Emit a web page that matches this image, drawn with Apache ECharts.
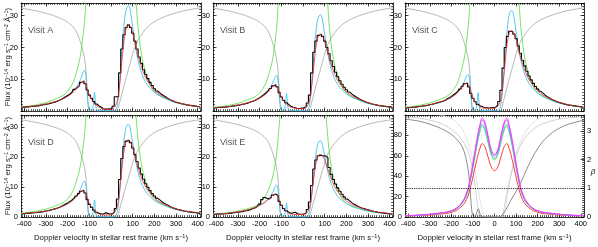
<!DOCTYPE html>
<html><head><meta charset="utf-8">
<script src="https://cdn.jsdelivr.net/npm/echarts@6/dist/echarts.min.js"></script>
<style>html,body{margin:0;padding:0;background:#fff}#c{width:598px;height:247px}</style>
</head><body><div id="c"></div><script>
// ---------------- DATA ----------------
const X_TICKS = [-400,-300,-200,-100,0,100,200,300,400];
const Y_TICKS_FLUX = [0,10,20,30];
const Y_TICKS_MODEL = [0,20,40,60,80];
const Y_TICKS_BETA = [0,1,2,3];
const VISITS = ['Visit A','Visit B','Visit C','Visit D','Visit E'];

// observed bins (km/s), 10 km/s wide
const VEL_BINS = [-410,-400,-390,-380,-370,-360,-350,-340,-330,-320,
  -310,-300,-290,-280,-270,-260,-250,-240,-230,-220,
  -210,-200,-190,-180,-170,-160,-150,-140,-130,-120,
  -110,-100,-90,-80,-70,-60,-50,-40,-30,-20,
  -10,0,10,20,30,40,50,60,70,80,
  90,100,110,120,130,140,150,160,170,180,
  190,200,210,220,230,240,250,260,270,280,
  290,300,310,320,330,340,350,360,370,380,
  390,400,410];
const OBS_A = [1.2,1.2,1.3,1.3,1.4,1.5,1.5,1.6,1.7,1.9,
  2.0,2.1,2.2,2.4,2.6,2.8,3.0,3.3,3.6,4.0,
  4.5,4.9,5.3,5.9,6.8,7.4,8.0,9.0,9.5,8.6,
  6.6,5.0,4.0,3.0,2.2,1.6,1.2,0.7,0.6,0.6,
  0.7,0.6,1.5,4.5,4.5,12,19.5,24,26.3,27.1,
  26.3,24.5,22,19.5,17,15,13,11.5,10.2,9.0,
  8.0,7.0,6.3,5.7,5.2,4.7,4.3,3.9,3.5,3.2,
  2.9,2.7,2.5,2.3,2.2,2.0,1.9,1.8,1.7,1.6,
  1.5,1.4,1.3];
const OBS_B = [1.0,1.0,1.1,1.1,1.2,1.2,1.3,1.4,1.5,1.6,
  1.7,1.8,1.9,2.1,2.2,2.4,2.6,2.9,3.1,3.4,
  3.8,4.2,4.7,5.2,5.8,6.4,7.1,7.9,8.3,7.6,
  5.8,4.4,3.4,2.6,2.0,1.5,1.2,1.0,0.8,0.8,
  0.9,1.0,1.3,2.5,5.0,12,18.5,22,23.8,24.2,
  23.5,22,20,18,15.8,14,12.2,10.8,9.5,8.4,
  7.5,6.7,6.0,5.4,4.9,4.4,4.0,3.6,3.3,3.0,
  2.7,2.5,2.3,2.1,2.0,1.8,1.7,1.6,1.5,1.4,
  1.3,1.3,1.2];
const OBS_C = [1.0,1.0,1.1,1.2,1.2,1.3,1.4,1.5,1.6,1.7,
  1.8,2.0,2.1,2.3,2.5,2.7,2.9,3.1,3.4,3.8,
  4.2,4.6,5.1,5.6,6.2,6.9,7.8,8.6,8.8,7.6,
  5.5,4.0,2.9,2.1,1.6,1.3,1.0,1.0,0.9,1.0,
  1.1,1.2,1.8,3.0,6.5,13.5,20,23.5,25.1,25.0,
  24.2,22.8,20.5,18.2,16,14.2,12.5,11,9.8,8.7,
  7.7,6.9,6.2,5.6,5.0,4.5,4.1,3.7,3.4,3.1,
  2.8,2.6,2.4,2.2,2.0,1.9,1.8,1.7,1.6,1.5,
  1.4,1.3,1.2];
const OBS_D = [1.1,1.1,1.2,1.2,1.3,1.4,1.4,1.5,1.6,1.7,
  1.8,2.0,2.1,2.3,2.5,2.7,2.9,3.2,3.5,3.9,
  4.3,4.7,5.2,5.7,6.3,7.0,7.8,8.6,8.9,8.0,
  5.8,4.2,3.2,2.3,1.6,1.2,1.0,1.0,1.4,1.2,
  1.0,1.0,1.5,2.8,6.0,12.5,19.5,23.5,25.3,25.5,
  24.8,23.0,20.8,18.5,16.3,14.3,12.6,11.1,9.9,8.8,
  7.8,7.0,6.3,5.7,5.1,4.6,4.2,3.8,3.4,3.1,
  2.8,2.6,2.4,2.2,2.0,1.9,1.8,1.7,1.6,1.5,
  1.4,1.3,1.2];
const OBS_E = [0.9,0.9,1.0,1.0,1.0,1.1,1.1,1.2,1.3,1.4,
  1.5,1.6,1.7,1.8,2.0,2.1,2.3,2.5,2.8,3.1,
  3.6,4.3,5.8,6.5,6.2,6.0,6.6,7.3,7.7,7.1,
  5.2,3.9,2.8,2.1,1.6,1.2,1.4,1.6,1.1,0.9,
  0.9,1.0,1.3,2.5,5.0,10.5,16,19,20.4,20.6,
  20.3,20.4,19.8,16.5,14.2,12.5,11.0,9.7,8.6,7.6,
  6.7,6.0,5.4,4.8,4.3,3.9,3.5,3.2,2.9,2.7,
  2.5,2.3,2.1,1.9,1.8,1.6,1.5,1.4,1.3,1.2,
  1.1,1.0,1.0];

// model grid (km/s)
const MODEL_V = [-415,-380,-340,-300,-260,-220,-190,-170,-155,-140,-130,-122,-115,-108,-102,-96,-90,-85,-80,-76,-72,-68,-62,-55,-45,-30,-15,0,10,20,28,35,42,50,58,66,74,82,90,100,110,120,132,145,160,180,200,225,260,300,340,380,415];
// convolved fitted model (red)
const FIT_A = [1.2,1.4,1.7,2.2,2.9,3.9,5.0,6.2,7.4,8.7,9.3,9.2,8.2,6.6,5.3,4.4,3.7,3.1,2.6,2.3,2.0,1.8,1.5,1.2,0.9,0.6,0.5,0.5,0.8,1.6,3.0,5.5,9.5,15.5,21,24.8,26.7,27.2,26.6,24.5,21.5,18.8,15.8,13.0,10.5,8.2,6.6,5.2,3.9,2.8,2.1,1.6,1.3];
const FIT_B = [1.0,1.2,1.4,1.9,2.5,3.4,4.4,5.4,6.5,7.7,8.2,8.0,7.2,5.9,4.8,4.0,3.3,2.8,2.4,2.1,1.9,1.7,1.4,1.2,1.0,0.8,0.7,0.7,0.9,1.6,2.9,5.2,9.0,14.2,19.2,22.5,24.0,24.2,23.6,21.8,19.3,16.9,14.3,11.8,9.6,7.6,6.1,4.8,3.6,2.6,1.9,1.5,1.2];
const FIT_C = [1.0,1.2,1.5,2.0,2.7,3.6,4.7,5.8,7.0,8.3,8.8,8.4,7.3,5.8,4.6,3.7,3.0,2.5,2.1,1.8,1.6,1.4,1.2,1.0,0.9,0.8,0.8,0.9,1.2,2.0,3.4,6.0,10.2,15.8,21,24,25.2,25.2,24.4,22.4,19.8,17.3,14.6,12.1,9.9,7.9,6.4,5.0,3.8,2.7,2.0,1.5,1.2];
const FIT_D = [1.1,1.3,1.6,2.0,2.7,3.7,4.8,5.9,7.1,8.4,8.9,8.6,7.6,6.1,4.9,4.0,3.3,2.8,2.3,2.0,1.7,1.5,1.2,1.0,0.8,0.7,0.7,0.8,1.1,1.9,3.3,5.9,10.0,15.8,21,24.3,25.6,25.7,25.0,23.0,20.3,17.7,14.9,12.3,10.0,8.0,6.4,5.0,3.8,2.7,2.0,1.6,1.3];
const FIT_E = [0.9,1.0,1.3,1.7,2.3,3.2,4.3,5.2,6.2,7.2,7.6,7.3,6.5,5.3,4.3,3.5,2.9,2.4,2.0,1.8,1.6,1.4,1.2,1.0,0.9,0.8,0.8,0.8,1.0,1.6,2.8,5.0,8.5,13.2,17.2,19.7,20.8,20.9,20.4,19.0,16.9,14.8,12.5,10.3,8.4,6.7,5.4,4.2,3.2,2.3,1.7,1.3,1.0];
// ISM-absorbed, unconvolved model (blue)
const ABS_A = [1.1,1.3,1.6,2.1,2.8,3.9,5.2,6.6,8.0,10.0,12.0,12.8,10.5,4.0,0.5,0.2,0.3,0.6,3.0,6.0,3.0,0.5,0.1,0.1,0.1,0.1,0.1,0.1,0.1,0.2,1.5,5.0,11,19,26,30.5,32.8,33.2,31.0,26.5,21.5,17.5,14.0,11.2,9.0,7.2,5.9,4.8,3.6,2.6,2.0,1.5,1.2];
const ABS_B = [1.0,1.1,1.4,1.8,2.4,3.4,4.5,5.8,7.0,8.8,10.5,11.3,9.5,3.8,0.6,0.2,0.3,0.6,2.8,5.5,2.8,0.5,0.1,0.1,0.1,0.1,0.1,0.1,0.1,0.2,1.4,4.6,10,17.5,24,28.2,30.0,30.3,28.5,24.2,19.6,16.0,12.8,10.3,8.3,6.6,5.4,4.4,3.3,2.4,1.8,1.4,1.1];
const ABS_C = [1.0,1.1,1.4,1.9,2.5,3.5,4.7,6.0,7.4,9.2,11.0,11.5,9.5,3.8,0.6,0.2,0.3,0.7,3.0,5.8,2.8,0.5,0.1,0.1,0.1,0.1,0.1,0.1,0.1,0.2,1.5,4.8,10.6,18.2,25,29.5,31.4,31.5,29.5,25.2,20.4,16.6,13.3,10.7,8.6,6.9,5.6,4.6,3.4,2.5,1.9,1.4,1.1];
const ABS_D = [1.0,1.2,1.5,1.9,2.6,3.6,4.8,6.1,7.5,9.4,11.3,12.0,10.0,4.0,0.6,0.2,0.3,0.7,3.0,5.7,2.8,0.5,0.1,0.1,0.1,0.1,0.1,0.1,0.1,0.2,1.4,4.7,10.3,17.8,24.5,28.8,30.6,30.9,29.0,24.8,20.1,16.4,13.1,10.5,8.5,6.8,5.5,4.5,3.4,2.5,1.9,1.4,1.1];
const ABS_E = [0.8,1.0,1.2,1.6,2.2,3.1,4.2,5.3,6.5,8.2,9.9,10.7,9.0,3.6,0.5,0.2,0.3,0.6,2.4,4.6,2.3,0.4,0.1,0.1,0.1,0.1,0.1,0.1,0.1,0.2,1.2,3.8,8.5,14.6,20.2,23.7,25.2,25.4,23.8,20.3,16.5,13.4,10.7,8.6,6.9,5.5,4.5,3.7,2.8,2.0,1.5,1.1,0.9];

// intrinsic profiles (green in A-E; coloured in last panel)
const INTR_V = [-415,-340,-260,-200,-160,-130,-110,-95,-80,-68,-57,-45,-30,-15,0,15,30,45,57,68,80,95,110,130,160,200,260,340,415];
const INTR_A = [1.3,2.0,3.7,6.2,12,23,41,59,78,90,97,93,80,66,61,66,80,93,97,90,78,59,41,23,12,6.2,3.7,2.0,1.3];
const INTR_B = [1.2,1.8,3.4,5.7,11,21,38,54,72,83,89,85,73,61,56,61,73,85,89,83,72,54,38,21,11,5.7,3.4,1.8,1.2];
const INTR_C = [1.2,1.9,3.5,5.8,11.3,21.5,38.5,55.5,73,85,91,87,75,62,57.5,62,75,87,91,85,73,55.5,38.5,21.5,11.3,5.8,3.5,1.9,1.2];
const INTR_D = [1.3,2.0,3.6,6.0,11.8,22.5,40,58,76,88,95,91,78,64.5,60,64.5,78,91,95,88,76,58,40,22.5,11.8,6.0,3.6,2.0,1.3];
const INTR_E = [1.0,1.5,2.7,4.6,9,17,30.5,44,58,67,72,69,59,49,45.5,49,59,69,72,67,58,44,30.5,17,9,4.6,2.7,1.5,1.0];

// ISM transmission (grey, scaled)
const ISM_V = [-415,-350,-290,-240,-205,-180,-160,-145,-132,-122,-115,-110,-106,-102,-90,20,30,45,60,80,100,115,135,160,190,230,280,340,415];
const ISM_T = [32.4,31.6,30.6,29.4,28.2,26.8,25,22.5,19.5,16.5,12.5,7,2.5,0.2,0,0,0.3,4,8,13,18,21,23.5,25.8,27.7,29.2,30.5,31.6,32.5];

// last panel grey curves
const DARK_V = [-415,-350,-300,-250,-200,-170,-150,-135,-122,-114,-108,-103,-98,-90,-84,-79,-75,-71,-66,-60,25,32,40,60,80,100,120,150,180,220,270,330,415];
const DARK_Y = [96,94,91,87,81,75,69,60,46,30,12,3,1,1,3,7,8,6,2,0,0,1,3,10,18,25,33,47,60,73,83,90,95];
const LIGHT1_V = [-415,-350,-300,-250,-200,-160,-130,-110,-95,-85,-75,-68,30,40,50,60,75,95,120,150,200,260,330,415];
const LIGHT1_Y = [98,97,95,92,86,78,68,55,38,22,6,0,0,5,15,26,40,56,70,80,89,94,97,98];
const LIGHT2_V = [-290,-230,-190,-160,-135,-115,-95,-80,-65,-52,-45,40,48,55,65,80,100,125,160,200,240];
const LIGHT2_Y = [101,99,95,89,80,68,50,32,14,3,0,0,4,14,28,45,62,76,88,96,100];
const BETA_THRESHOLD = 1;

// ---------------- CHART ----------------
const FONT = '"Liberation Sans", Arial, sans-serif';
const XMIN = -415, XMAX = 415;
const FLUX_MAX = 34, MODEL_MAX = 100, BETA_MAX = 3.55;
function steps(a, b, s){ const r=[]; for(let i=0;a+i*s<=b+1e-9;i++) r.push(+(a+i*s).toFixed(4)); return r; }
const X_MINOR = steps(-410, 410, 10);
const Y_MINOR_FLUX = steps(0, 34, 1);
const Y_MINOR_MODEL = steps(0, 100, 2);
const pts = (xs, ys) => xs.map((x,i)=>[x, ys[i]]);

const GRIDS = [
  {left:21, top:3, width:180, height:108},
  {left:213, top:3, width:180, height:108},
  {left:405, top:3, width:179, height:108},
  {left:21, top:115, width:180, height:102},
  {left:213, top:115, width:180, height:102},
  {left:405, top:115, width:179, height:102}
];

const tickStyle = {color:'#000', width:0.7};
const lineOn = {show:true, onZero:false, lineStyle:{color:'#000', width:0.8}};
const lineOff = {show:false, onZero:false};
const labStyle = {fontSize:7.5, color:'#000', margin:3, fontFamily:FONT};
const xAxis = [], yAxis = [];
GRIDS.forEach((g, gi) => {
  const bottomRow = gi >= 3;
  const base = {gridIndex:gi, type:'value', min:XMIN, max:XMAX, splitLine:{show:false}, axisLabel:{show:false}};
  xAxis.push(Object.assign({}, base, {position:'bottom', axisLine:lineOn,
    axisTick:{show:true, inside:true, length:3.5, customValues:X_TICKS, lineStyle:tickStyle},
    axisLabel:Object.assign({show:bottomRow, customValues:X_TICKS}, labStyle)}));
  xAxis.push(Object.assign({}, base, {position:'top', axisLine:lineOn,
    axisTick:{show:true, inside:true, length:3.5, customValues:X_TICKS, lineStyle:tickStyle}}));
  xAxis.push(Object.assign({}, base, {position:'top', axisLine:lineOff,
    axisTick:{show:true, inside:true, length:1.8, customValues:X_MINOR, lineStyle:tickStyle}}));
  xAxis.push(Object.assign({}, base, {position:'bottom', axisLine:lineOff,
    axisTick:{show:true, inside:true, length:1.8, customValues:X_MINOR, lineStyle:tickStyle}}));

  const isModel = gi === 5;
  const lmax = isModel ? MODEL_MAX : FLUX_MAX;
  const ticks = isModel ? Y_TICKS_MODEL : Y_TICKS_FLUX;
  const lab = isModel ? Y_TICKS_MODEL : (bottomRow ? Y_TICKS_FLUX : Y_TICKS_FLUX.slice(1));
  const minor = isModel ? Y_MINOR_MODEL : Y_MINOR_FLUX;
  const ybase = {gridIndex:gi, type:'value', min:0, splitLine:{show:false}, axisLabel:{show:false}};
  yAxis.push(Object.assign({}, ybase, {max:lmax, position:'left', axisLine:lineOn,
    axisTick:{show:true, inside:true, length:3.5, customValues:ticks, lineStyle:tickStyle},
    axisLabel:Object.assign({show:true, customValues:lab}, labStyle)}));
  if (isModel) {
    yAxis.push(Object.assign({}, ybase, {max:BETA_MAX, position:'right', axisLine:lineOn,
      axisTick:{show:true, inside:true, length:3.5, customValues:Y_TICKS_BETA, lineStyle:tickStyle},
      axisLabel:Object.assign({show:true, customValues:Y_TICKS_BETA}, labStyle)}));
  } else {
    yAxis.push(Object.assign({}, ybase, {max:lmax, position:'right', axisLine:lineOn,
      axisTick:{show:true, inside:true, length:3.5, customValues:ticks, lineStyle:tickStyle}}));
  }
  yAxis.push(Object.assign({}, ybase, {max:lmax, position:'right', axisLine:lineOff,
    axisTick:{show:true, inside:true, length:1.8, customValues:minor, lineStyle:tickStyle}}));
  yAxis.push(Object.assign({}, ybase, {max:lmax, position:'left', axisLine:lineOff,
    axisTick:{show:true, inside:true, length:1.8, customValues:minor, lineStyle:tickStyle}}));
});

function line(gi, data, color, width, extra){
  return Object.assign({type:'line', xAxisIndex:gi*4, yAxisIndex:gi*4, data, symbol:'none', silent:true,
    lineStyle:{color, width}, animation:false, clip:true}, extra||{});
}

const OBS = [OBS_A, OBS_B, OBS_C, OBS_D, OBS_E];
const FIT = [FIT_A, FIT_B, FIT_C, FIT_D, FIT_E];
const ABS = [ABS_A, ABS_B, ABS_C, ABS_D, ABS_E];
const INTR = [INTR_A, INTR_B, INTR_C, INTR_D, INTR_E];

const series = [];
for (let i = 0; i < 5; i++) {
  series.push(line(i, pts(ISM_V, ISM_T), '#9a9a9a', 0.7, {smooth:0.3}));
  series.push(line(i, pts(INTR_V, INTR[i]), '#4fe03a', 0.8, {smooth:0.4}));
  series.push(line(i, pts(MODEL_V, ABS[i]), '#3fc3ef', 0.9, {smooth:0.3}));
  series.push(line(i, pts(VEL_BINS, OBS[i]), '#000000', 1.1, {step:'middle'}));
  series.push(line(i, pts(MODEL_V, FIT[i]), '#f0302a', 0.8, {smooth:0.3}));
}
// last panel
series.push(line(5, pts(LIGHT2_V, LIGHT2_Y), '#d8d8d8', 0.7, {smooth:0.3}));
series.push(line(5, pts(LIGHT1_V, LIGHT1_Y), '#bdbdbd', 0.7, {smooth:0.3}));
series.push(line(5, pts(DARK_V, DARK_Y), '#6f6f6f', 0.8, {smooth:0.3}));
series.push({type:'line', xAxisIndex:20, yAxisIndex:21, data:[], symbol:'none', animation:false,
  markLine:{silent:true, symbol:'none', label:{show:false}, animation:false,
    lineStyle:{type:'dotted', color:'#000', width:0.9}, data:[{yAxis:BETA_THRESHOLD}]}});
const MODEL_COLORS = ['#ff33ff', '#5fdc55', '#46c8f0', '#a970e0', '#ff3b3b'];
[4, 1, 2, 3, 0].forEach(k => series.push(line(5, pts(INTR_V, INTR[k]), MODEL_COLORS[k], 1.0, {smooth:0.4})));

const sup = {fontSize:5.5, verticalAlign:'top', lineHeight:6, fontFamily:FONT, fill:'#111'};
const graphic = [];
GRIDS.slice(0,5).forEach((g, i) => {
  graphic.push({type:'text', x:g.left + 7, y:g.top + 28, silent:true,
    style:{text:VISITS[i], fontSize:9, fontFamily:FONT, fill:'#555', align:'left', verticalAlign:'middle'}});
});
[GRIDS[0], GRIDS[3]].forEach(g => {
  graphic.push({type:'text', x:8, y:g.top + g.height/2, rotation:Math.PI/2, silent:true,
    style:{text:'Flux (10{s|−14} erg s{s|−1} cm{s|−2} Å{s|−1})', fontSize:7.8, lineHeight:10, fontFamily:FONT, fill:'#111',
      align:'center', verticalAlign:'middle', rich:{s:sup}}});
});
GRIDS.slice(3).forEach(g => {
  graphic.push({type:'text', x:g.left + g.width/2, y:238, silent:true,
    style:{text:'Doppler velocity in stellar rest frame (km s{s|−1})', fontSize:7.8, lineHeight:10, fontFamily:FONT, fill:'#111',
      align:'center', verticalAlign:'middle', rich:{s:sup}}});
});
graphic.push({type:'text', x:593, y:172, silent:true,
  style:{text:'β', fontSize:8, fontStyle:'italic', fontFamily:FONT, fill:'#111', align:'center', verticalAlign:'middle'}});

const chart = echarts.init(document.getElementById('c'), null, {renderer:'canvas'});
chart.setOption({animation:false, grid:GRIDS, xAxis, yAxis, series, graphic});
</script></body></html>
